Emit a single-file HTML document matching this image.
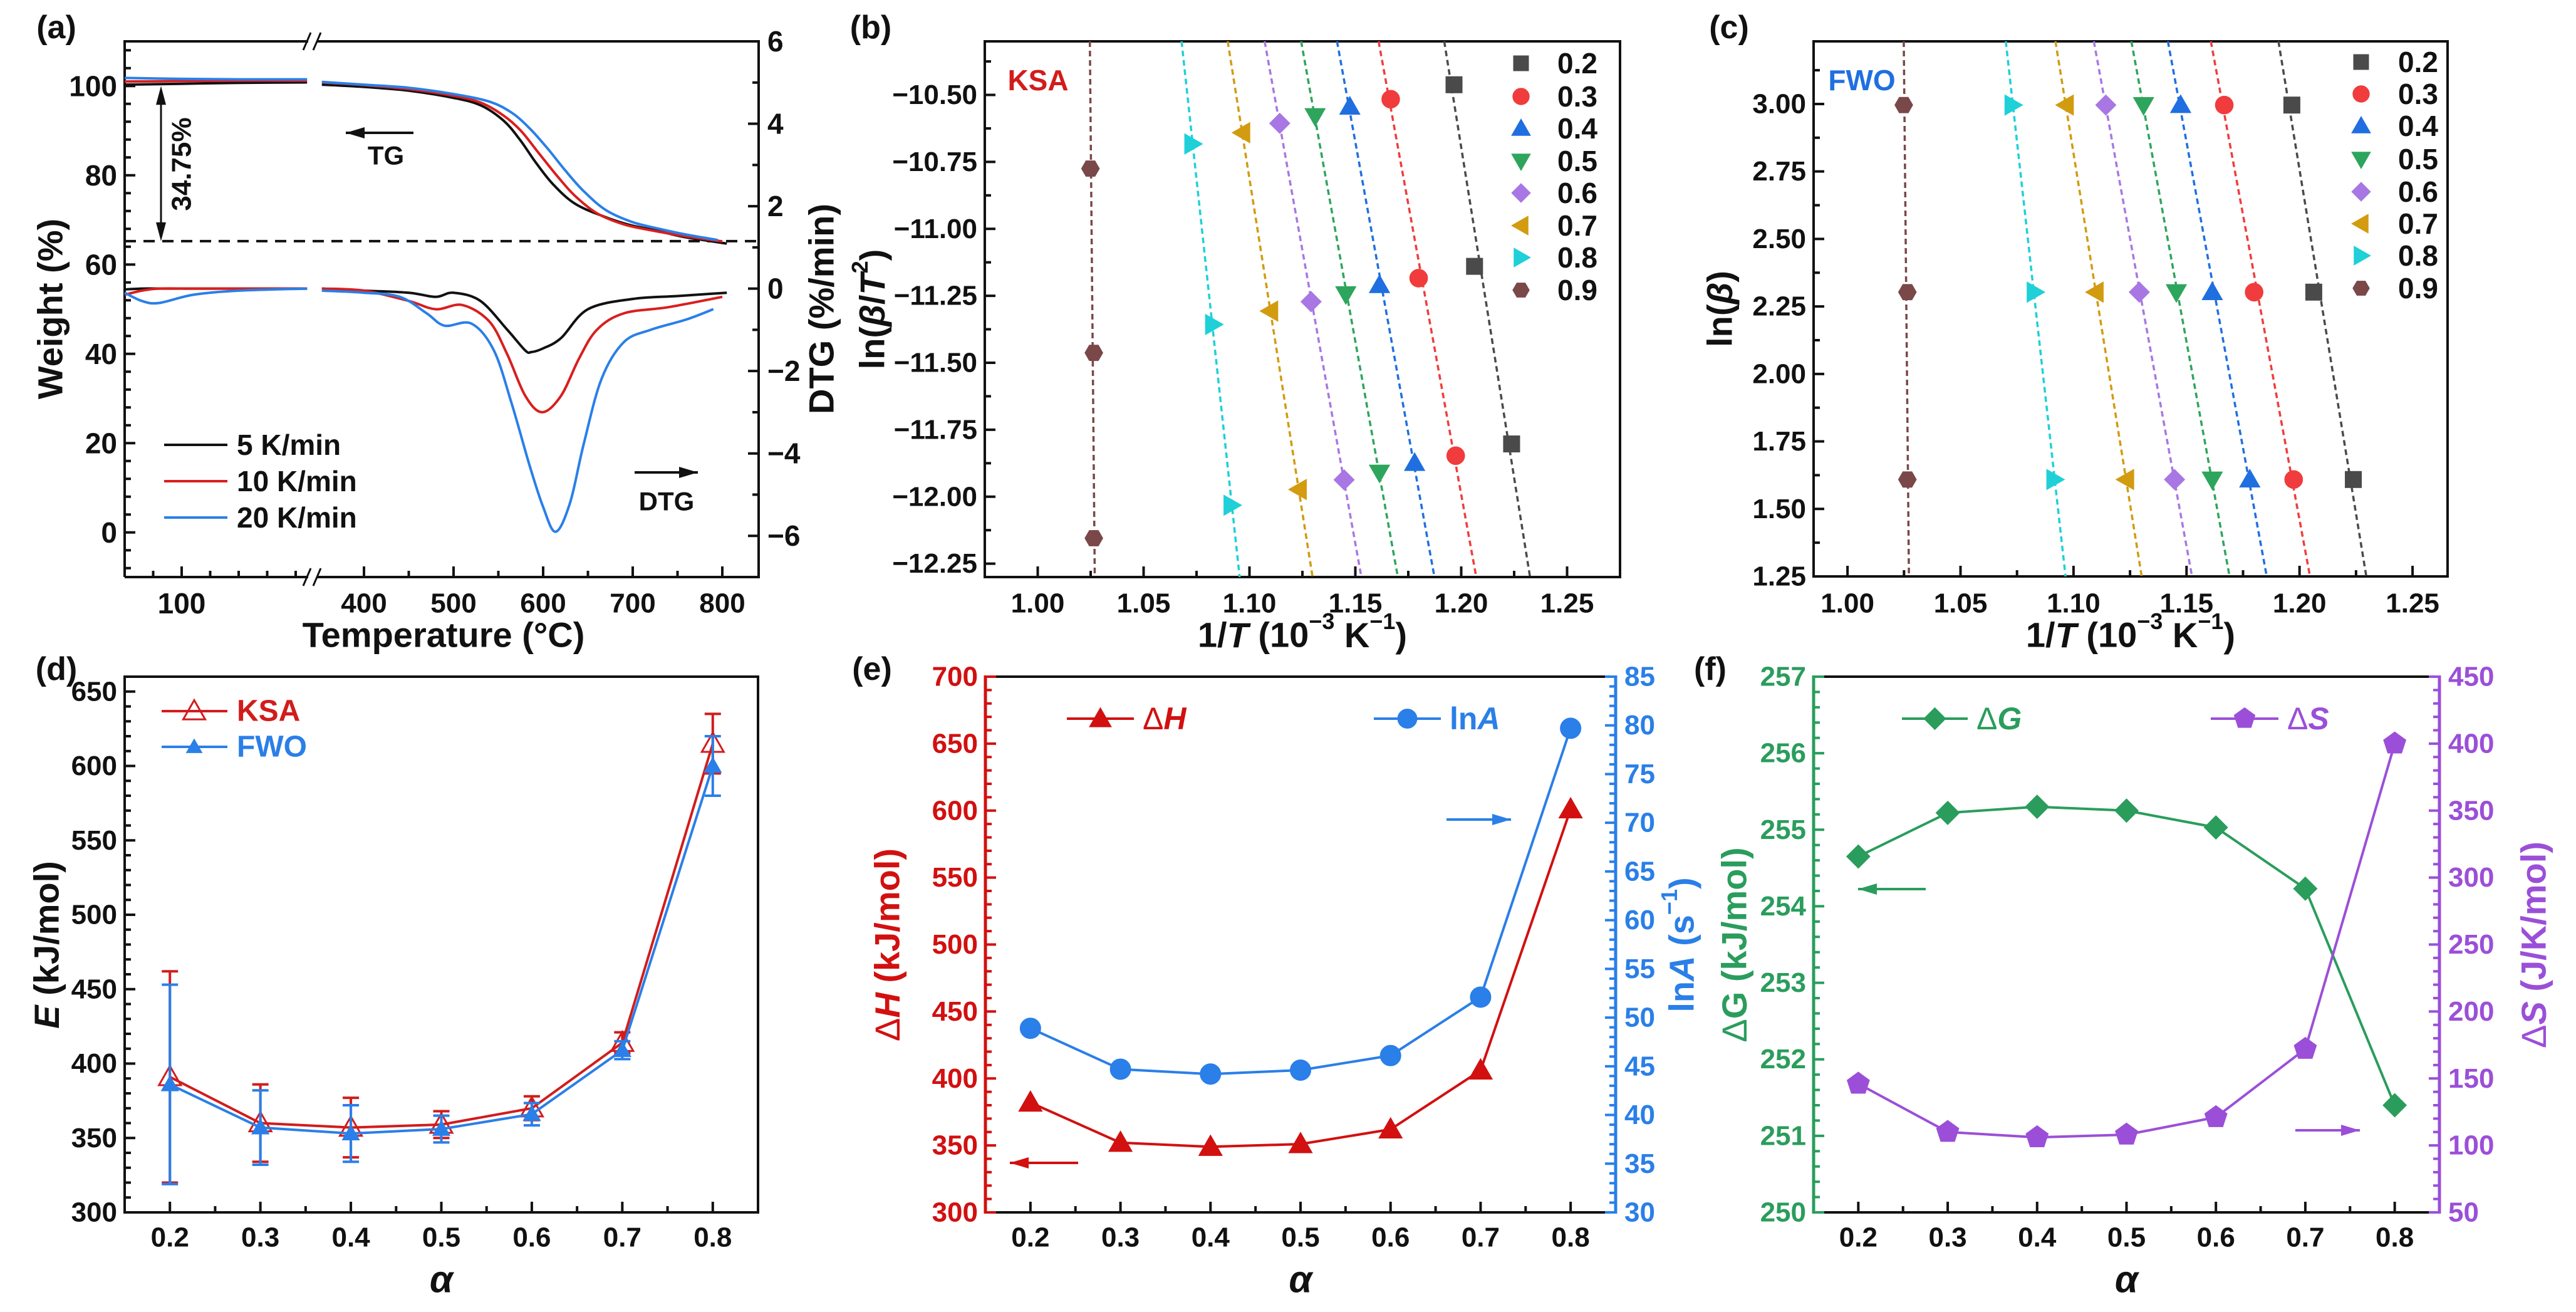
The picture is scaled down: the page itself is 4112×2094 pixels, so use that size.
<!DOCTYPE html>
<html><head><meta charset="utf-8"><style>
html,body{margin:0;padding:0;background:#fff;}
svg{display:block;font-family:"Liberation Sans",Arial,sans-serif;font-weight:bold;}
</style></head><body>
<svg id="fig" width="4112" height="2094" viewBox="0 0 4112 2094" xmlns="http://www.w3.org/2000/svg">
<defs>
<clipPath id="clipB"><rect x="1572" y="66" width="1014" height="855"/></clipPath>
<clipPath id="clipC"><rect x="2895" y="66" width="1012" height="854"/></clipPath>
</defs>
</svg>
<script>
// ---------- DATA ----------
// Panel (a) TG (weight %) and DTG (%/min)
const tgLeftT = [50, 100, 150, 210];
const tgBlackLeft = [100.3, 100.5, 100.7, 100.8];
const tgRedLeft = [101.0, 101.1, 101.2, 101.2];
const tgBlueLeft = [101.8, 101.6, 101.5, 101.5];
const tgBlackT = [353, 400, 452, 501, 531, 556, 574, 592, 611, 635, 666, 696, 727, 757, 805];
const tgBlack = [100.3, 99.8, 98.9, 97.3, 95.6, 92.2, 88.0, 82.8, 78.0, 73.7, 70.9, 68.9, 67.6, 66.2, 64.7];
const tgRedT = [353, 400, 450, 500, 530, 555, 575, 595, 615, 635, 660, 690, 720, 760, 800];
const tgRed = [100.8, 100.2, 99.3, 97.8, 96.3, 93.5, 90.0, 85.0, 80.0, 75.5, 71.5, 69.0, 67.7, 66.3, 65.2];
const tgBlueT = [353, 400, 450, 500, 540, 565, 585, 605, 625, 645, 670, 700, 730, 760, 795];
const tgBlue = [100.9, 100.3, 99.6, 98.2, 96.5, 94.0, 90.5, 86.0, 81.0, 76.5, 72.2, 69.5, 68.0, 66.7, 65.5];
const dtgLeftT = [50, 65, 80, 110, 150, 210];
const dtgBlackLeft = [-0.02, 0, 0, 0, 0, 0];
const dtgRedLeft = [-0.15, -0.05, 0.0, 0.0, 0.0, 0.0];
const dtgBlueLeft = [-0.1, -0.3, -0.35, -0.15, -0.05, 0.0];
const dtgBlackT = [353, 400, 450, 480, 500, 530, 560, 580, 587, 600, 620, 650, 700, 750, 805];
const dtgBlack = [0.0, -0.05, -0.1, -0.2, -0.1, -0.3, -1.0, -1.5, -1.54, -1.45, -1.2, -0.5, -0.25, -0.18, -0.1];
const dtgRedT = [353, 400, 450, 480, 510, 540, 560, 580, 599, 620, 640, 660, 690, 740, 800];
const dtgRed = [0.0, -0.05, -0.3, -0.5, -0.4, -0.8, -1.6, -2.6, -3.0, -2.6, -1.7, -1.0, -0.6, -0.45, -0.2];
const dtgBlueT = [353, 400, 440, 470, 490, 520, 545, 565, 585, 600, 614, 630, 645, 665, 690, 720, 760, 790];
const dtgBlue = [-0.05, -0.1, -0.2, -0.6, -0.9, -0.85, -1.5, -2.8, -4.3, -5.3, -5.9, -5.2, -3.8, -2.2, -1.3, -1.0, -0.75, -0.5];

// Panels (b),(c) isoconversional data
const alphas = ['0.2', '0.3', '0.4', '0.5', '0.6', '0.7', '0.8', '0.9'];
const invT20 = [1.1966, 1.1667, 1.1474, 1.1310, 1.1143, 1.0966, 1.0730, 1.0249];
const invT10 = [1.2063, 1.1799, 1.1614, 1.1455, 1.1291, 1.1098, 1.0828, 1.0265];
const invT5 = [1.2238, 1.1974, 1.1780, 1.1614, 1.1447, 1.1233, 1.0915, 1.0265];
const ksa20 = [-10.462, -10.516, -10.544, -10.579, -10.606, -10.641, -10.683, -10.775];
const ksa10 = [-11.140, -11.184, -11.210, -11.244, -11.272, -11.307, -11.357, -11.463];
const ksa5 = [-11.803, -11.847, -11.874, -11.910, -11.937, -11.973, -12.032, -12.155];
const lnBeta = [2.996, 2.303, 1.609];

// Panel (d)
const alphaX = [0.2, 0.3, 0.4, 0.5, 0.6, 0.7, 0.8];
const eKSA = [391, 360, 357, 359, 370, 414, 615];
const eKSAerr = [71, 26, 20, 9, 8, 7, 20];
const eFWO = [386, 357, 353, 356, 366, 409, 600];
const eFWOerr = [67, 25, 19, 9, 7.5, 6, 20];
// Panel (e)
const dH = [382, 352, 349, 351, 362, 406, 601];
const lnA = [48.9, 44.7, 44.2, 44.6, 46.1, 52.1, 79.7];
// Panel (f)
const dG = [254.65, 255.22, 255.3, 255.25, 255.03, 254.23, 251.4];
const dS = [146, 110, 106, 108, 121, 172, 400];

// ---------- HELPERS ----------
const NS = 'http://www.w3.org/2000/svg';
const svg = document.getElementById('fig');
function mk(tag, attrs, parent) {
  const e = document.createElementNS(NS, tag);
  for (const k in attrs) e.setAttribute(k, attrs[k]);
  (parent || svg).appendChild(e);
  return e;
}
function lin(d0, d1, r0, r1) { return v => r0 + (v - d0) * (r1 - r0) / (d1 - d0); }
function txt(x, y, s, size, color, anchor, parent, rot) {
  const t = mk('text', {x: x, y: y, 'font-size': size, fill: color || '#111', 'text-anchor': anchor || 'middle', 'dominant-baseline': 'central'}, parent);
  if (rot) t.setAttribute('transform', 'rotate(' + rot + ' ' + x + ' ' + y + ')');
  t.innerHTML = s;
  return t;
}
function marker(type, cx, cy, r, color, parent, hollow) {
  let p;
  const f = hollow ? 'none' : color, st = color;
  if (type === 'square') p = mk('rect', {x: cx - r, y: cy - r, width: 2 * r, height: 2 * r}, parent);
  else if (type === 'circle') p = mk('circle', {cx: cx, cy: cy, r: r * 1.1}, parent);
  else {
    let pts;
    const R = r * 1.25;
    if (type === 'up') pts = [[0, -R], [R, R * 0.75], [-R, R * 0.75]];
    else if (type === 'down') pts = [[0, R], [R, -R * 0.75], [-R, -R * 0.75]];
    else if (type === 'left') pts = [[-R, 0], [R * 0.75, -R], [R * 0.75, R]];
    else if (type === 'right') pts = [[R, 0], [-R * 0.75, -R], [-R * 0.75, R]];
    else if (type === 'diamond') pts = [[0, -R], [R, 0], [0, R], [-R, 0]];
    else if (type === 'hex') { pts = []; for (let i = 0; i < 6; i++) { const a = Math.PI / 3 * i; pts.push([r * 1.1 * Math.cos(a), r * 1.1 * Math.sin(a)]); } }
    else if (type === 'pent') { pts = []; for (let i = 0; i < 5; i++) { const a = -Math.PI / 2 + 2 * Math.PI / 5 * i; pts.push([R * Math.cos(a), R * Math.sin(a)]); } }
    p = mk('polygon', {points: pts.map(q => (cx + q[0]) + ',' + (cy + q[1])).join(' ')}, parent);
  }
  p.setAttribute('fill', f);
  p.setAttribute('stroke', st);
  p.setAttribute('stroke-width', hollow ? 3 : 1);
  return p;
}
function polyline(xs, ys, color, w, parent, dash) {
  const pts = xs.map((x, i) => x.toFixed(1) + ',' + ys[i].toFixed(1)).join(' ');
  const p = mk('polyline', {points: pts, fill: 'none', stroke: color, 'stroke-width': w, 'stroke-linejoin': 'round'}, parent);
  if (dash) p.setAttribute('stroke-dasharray', dash);
  return p;
}
function smooth(xs, ys, color, w, parent) {
  let d = 'M' + xs[0].toFixed(1) + ',' + ys[0].toFixed(1);
  for (let i = 0; i < xs.length - 1; i++) {
    const x0 = xs[Math.max(0, i - 1)], y0 = ys[Math.max(0, i - 1)];
    const x1 = xs[i], y1 = ys[i], x2 = xs[i + 1], y2 = ys[i + 1];
    const x3 = xs[Math.min(xs.length - 1, i + 2)], y3 = ys[Math.min(xs.length - 1, i + 2)];
    const c1x = x1 + (x2 - x0) / 6, c1y = y1 + (y2 - y0) / 6;
    const c2x = x2 - (x3 - x1) / 6, c2y = y2 - (y3 - y1) / 6;
    d += ' C' + c1x.toFixed(1) + ',' + c1y.toFixed(1) + ' ' + c2x.toFixed(1) + ',' + c2y.toFixed(1) + ' ' + x2.toFixed(1) + ',' + y2.toFixed(1);
  }
  return mk('path', {d: d, fill: 'none', stroke: color, 'stroke-width': w, 'stroke-linejoin': 'round'}, parent);
}
function arrow(x1, y, x2, color, parent) {
  const g = mk('g', {}, parent);
  mk('line', {x1: x1, y1: y, x2: x2, y2: y, stroke: color, 'stroke-width': 4}, g);
  const d = x2 > x1 ? 1 : -1;
  mk('polygon', {points: x2 + ',' + y + ' ' + (x2 - d * 30) + ',' + (y - 9) + ' ' + (x2 - d * 30) + ',' + (y + 9), fill: color}, g);
  return g;
}
function yTicks(g, x, side, sc, from, to, major, minor, color, fmt, labelSize) {
  const dir = side === 'l' ? 1 : -1;
  const n = Math.floor((to - from) / minor + 1e-6);
  for (let i = 0; i <= n; i++) {
    const v = from + i * minor;
    const isMaj = Math.abs(v / major - Math.round(v / major)) < 1e-6;
    const y = sc(v);
    mk('line', {x1: x, y1: y, x2: x + dir * (isMaj ? 17 : 10), y2: y, stroke: color, 'stroke-width': 4}, g);
    if (isMaj) {
      const t = txt(side === 'l' ? x - 12 : x + 14, y, fmt(v), labelSize || 44, color, side === 'l' ? 'end' : 'start', g);
      
      
    }
  }
}
function xTicks(g, y, sc, from, to, major, minor, fmt, labelY, x0, x1) {
  const n = Math.round((to - from) / minor);
  for (let i = 0; i <= n; i++) {
    const v = from + i * minor;
    const x = sc(v);
    if (x < x0 + 2 || x > x1 - 2) continue;
    const isMaj = Math.abs(v / major - Math.round(v / major)) < 1e-6;
    mk('line', {x1: x, y1: y, x2: x, y2: y - (isMaj ? 17 : 10), stroke: '#111', 'stroke-width': 4}, g);
    if (isMaj) {
      const t = txt(x, labelY, fmt(v), 44, '#111', 'middle', g);
      
      
    }
  }
}
const f0 = v => (v < 0 ? '\u2212' : '') + Math.abs(Math.round(v));
const f1 = v => v.toFixed(1);
const f2 = v => (v < 0 ? '\u2212' : '') + Math.abs(v).toFixed(2);

// ---------- PANEL A ----------
(function () {
  const g = mk('g', {});
  
  
  const L = 199, R = 1211, T = 66, B = 921;
  const xa = t => t <= 300 ? 290 + (t - 100) * 45.5 / 25 : 581 + (t - 400) * 1.43;
  const yl = lin(-10, 110, B, T);
  const yr = lin(-7, 6, B, T);
  const lbl = txt(90, 44, '(a)', 52, '#111', 'middle', g);
  
  
  const fr = mk('path', {d: `M${L},${B} L${L},${T} L492,${T} M506,${T} L${R},${T} L${R},${B} L506,${B} M492,${B} L${L},${B}`, fill: 'none', stroke: '#111', 'stroke-width': 4}, g);
  
  
  [T, B].forEach(y => {
    const br = mk('path', {d: `M484,${y + 14} L496,${y - 14} M500,${y + 14} L512,${y - 14}`, stroke: '#111', 'stroke-width': 3, fill: 'none'}, g);
    
    
  });
  yTicks(g, L, 'l', yl, -8, 108, 20, 4, '#111', f0, 46);
  yTicks(g, R, 'r', yr, -7, 6, 2, 1, '#111', f0, 46);
  for (let k = -2; k <= 4; k++) {
    const x = 290 + k * 45.5;
    if (x < L + 5 || x > 485) continue;
    mk('line', {x1: x, y1: B, x2: x, y2: B - (k === 0 ? 17 : 10), stroke: '#111', 'stroke-width': 4}, g);
  }
  const t100 = txt(290, 963, '100', 46, '#111', 'middle', g);
  
  
  xTicks(g, B, xa, 350, 850, 100, 50, f0, 963, 515, R);
  const xt = txt(708, 1013, 'Temperature (°C)', 56, '#111', 'middle', g);
  
  
  const yt = txt(80, 493, 'Weight (%)', 56, '#111', 'middle', g, -90);
  
  
  const yt2 = txt(1311, 493, 'DTG (%/min)', 56, '#111', 'middle', g, -90);
  
  
  const dl = mk('line', {x1: L, y1: yl(65.25), x2: R, y2: yl(65.25), stroke: '#111', 'stroke-width': 4, 'stroke-dasharray': '18,12'}, g);
  
  
  const da = mk('g', {}, g);
  
  
  mk('line', {x1: 257, y1: yl(100) + 28, x2: 257, y2: yl(65.25) - 28, stroke: '#111', 'stroke-width': 3}, da);
  mk('polygon', {points: `257,${yl(100)} 249,${yl(100) + 30} 265,${yl(100) + 30}`, fill: '#111'}, da);
  mk('polygon', {points: `257,${yl(65.25)} 249,${yl(65.25) - 30} 265,${yl(65.25) - 30}`, fill: '#111'}, da);
  const ml = txt(290, 262, '34.75%', 44, '#111', 'middle', g, -90);
  
  
  const a1 = arrow(660, 212, 552, '#111', g);
  
  
  const tg = txt(616, 248, 'TG', 42, '#111', 'middle', g);
  
  
  const a2 = arrow(1013, 754, 1114, '#111', g);
  
  
  const dt = txt(1064, 800, 'DTG', 42, '#111', 'middle', g);
  
  
  const cols = {k: '#111111', r: '#d91e1e', b: '#2a7fe8'};
  const series = [
    ['tg-5k-left', tgLeftT, tgBlackLeft, yl, cols.k], ['tg-10k-left', tgLeftT, tgRedLeft, yl, cols.r], ['tg-20k-left', tgLeftT, tgBlueLeft, yl, cols.b],
    ['tg-5k', tgBlackT, tgBlack, yl, cols.k], ['tg-10k', tgRedT, tgRed, yl, cols.r], ['tg-20k', tgBlueT, tgBlue, yl, cols.b],
    ['dtg-5k-left', dtgLeftT, dtgBlackLeft, yr, cols.k], ['dtg-10k-left', dtgLeftT, dtgRedLeft, yr, cols.r], ['dtg-20k-left', dtgLeftT, dtgBlueLeft, yr, cols.b],
    ['dtg-5k', dtgBlackT, dtgBlack, yr, cols.k], ['dtg-10k', dtgRedT, dtgRed, yr, cols.r], ['dtg-20k', dtgBlueT, dtgBlue, yr, cols.b]
  ];
  series.forEach(s => {
    const p = smooth(s[1].map(xa), s[2].map(s[3]), s[4], 4, g);
    
    
  });
  const legNames = ['5 K/min', '10 K/min', '20 K/min'], legCols = [cols.k, cols.r, cols.b];
  legNames.forEach((n, i) => {
    const lg = mk('g', {}, g);
    
    
    const y = 710 + i * 58;
    mk('line', {x1: 262, y1: y, x2: 363, y2: y, stroke: legCols[i], 'stroke-width': 4}, lg);
    txt(378, y, n, 46, '#111', 'start', lg);
  });
})();

// ---------- PANELS B, C ----------
const mTypes = ['square', 'circle', 'up', 'down', 'diamond', 'left', 'right', 'hex'];
const mCols = ['#4a4a4a', '#f03c3c', '#1f6fe0', '#2ea55c', '#a877e3', '#d29b10', '#1fd0d8', '#7a4848'];
function isoPanel(id, L, R, T, B, xd, yd, yMajor, yMinor, yVals, label, labelColor, tagX, legMX, legTX, legY, clip, ytitle, ytitleX, lblX) {
  const g = mk('g', {});
  
  
  const xs = lin(xd[0], xd[1], L, R), ys = lin(yd[0], yd[1], B, T);
  const pl = txt(lblX, 44, '(' + id + ')', 52, '#111', 'middle', g);
  
  
  const fr = mk('rect', {x: L, y: T, width: R - L, height: B - T, fill: 'none', stroke: '#111', 'stroke-width': 4}, g);
  
  
  xTicks(g, B, xs, 0.975, 1.275, 0.05, 0.025, v => v.toFixed(2), 963, L, R);
  const yStart = Math.ceil(yd[0] / yMinor - 1e-6) * yMinor;
  yTicks(g, L, 'l', ys, yStart, yd[1], yMajor, yMinor, '#111', f2, 44);
  const xt = mk('text', {x: (L + R) / 2, y: 1013, 'font-size': 56, 'text-anchor': 'middle', 'dominant-baseline': 'central', fill: '#111'}, g);
  xt.innerHTML = '1/<tspan font-style="italic">T</tspan> (10<tspan dy="-22" font-size="36">\u22123</tspan><tspan dy="22"> K</tspan><tspan dy="-22" font-size="36">\u22121</tspan><tspan dy="22">)</tspan>';
  
  
  const yt = mk('text', {x: ytitleX, y: (T + B) / 2, 'font-size': 56, 'text-anchor': 'middle', 'dominant-baseline': 'central', fill: '#111', transform: `rotate(-90 ${ytitleX} ${(T + B) / 2})`}, g);
  yt.innerHTML = ytitle;
  
  
  const tg = txt(tagX, 128, label, 46, labelColor, 'middle', g);
  
  
  const cg = mk('g', {'clip-path': 'url(#' + clip + ')'}, g);
  alphas.forEach((a, i) => {
    const px = [invT20[i], invT10[i], invT5[i]];
    const py = [yVals[0][i], yVals[1][i], yVals[2][i]];
    const mx = px.reduce((s, v) => s + v, 0) / 3, my = py.reduce((s, v) => s + v, 0) / 3;
    let sxy = 0, syy = 0;
    for (let k = 0; k < 3; k++) { sxy += (px[k] - mx) * (py[k] - my); syy += (py[k] - my) ** 2; }
    const b = sxy / syy;
    const xAt = y => mx + b * (y - my);
    const fl = mk('line', {x1: xs(xAt(yd[1])), y1: ys(yd[1]), x2: xs(xAt(yd[0])), y2: ys(yd[0]), stroke: mCols[i], 'stroke-width': 3.5, 'stroke-dasharray': '9,6'}, cg);
    
    
    for (let k = 0; k < 3; k++) {
      const m = marker(mTypes[i], xs(px[k]), ys(py[k]), 13, mCols[i], g);
      
      
    }
    const lg = mk('g', {}, g);
    
    
    marker(mTypes[i], legMX, legY[i], 12, mCols[i], lg);
    txt(legTX, legY[i], a, 46, '#111', 'start', lg);
  });
}
isoPanel('b', 1572, 2586, 66, 921, [0.975, 1.275], [-12.30, -10.30], 0.25, 0.125, [ksa20, ksa10, ksa5], 'KSA', '#d21c1c', 1657, 2428, 2486, [101, 154, 205, 257, 308, 360, 411, 463], 'clipB', 'ln(<tspan font-style="italic">\u03b2</tspan>/<tspan font-style="italic">T</tspan><tspan dy="-20" font-size="36">2</tspan><tspan dy="20">)</tspan>', 1392, 1390);
isoPanel('c', 2895, 3907, 66, 920, [0.985, 1.2655], [1.25, 3.232], 0.25, 0.125, [alphas.map(() => lnBeta[0]), alphas.map(() => lnBeta[1]), alphas.map(() => lnBeta[2])], 'FWO', '#1f6fe0', 2972, 3769, 3828, [99, 150, 201, 254, 306, 357, 408, 460], 'clipC', 'ln(<tspan font-style="italic">\u03b2</tspan>)', 2745, 2760);

// ---------- PANEL D ----------
(function () {
  const g = mk('g', {});
  
  
  const L = 199, R = 1210, T = 1080, B = 1935;
  const xs = lin(0.15, 0.85, L, R), ys = lin(300, 660, B, T);
  const pl = txt(90, 1068, '(d)', 52, '#111', 'middle', g);
  
  
  const fr = mk('rect', {x: L, y: T, width: R - L, height: B - T, fill: 'none', stroke: '#111', 'stroke-width': 4}, g);
  
  
  xTicks(g, B, xs, 0.15, 0.85, 0.1, 0.05, f1, 1975, L, R);
  yTicks(g, L, 'l', ys, 300, 660, 50, 10, '#111', f0, 44);
  const xt = txt((L + R) / 2, 2042, 'α', 60, '#111', 'middle', g);
  xt.setAttribute('font-style', 'italic');
  
  
  const yt = mk('text', {x: 74, y: 1508, 'font-size': 56, 'text-anchor': 'middle', 'dominant-baseline': 'central', fill: '#111', transform: 'rotate(-90 74 1508)'}, g);
  yt.innerHTML = '<tspan font-style="italic">E</tspan> (kJ/mol)';
  
  
  const sets = [['ksa', eKSA, eKSAerr, '#d21c1c', true], ['fwo', eFWO, eFWOerr, '#2a7fe8', false]];
  sets.forEach(s => {
    const sg = mk('g', {}, g);
    
    
    s[1].forEach((v, i) => {
      const x = xs(alphaX[i]);
      const eb = mk('path', {d: `M${x},${ys(v + s[2][i])} L${x},${ys(v - s[2][i])} M${x - 13},${ys(v + s[2][i])} L${x + 13},${ys(v + s[2][i])} M${x - 13},${ys(v - s[2][i])} L${x + 13},${ys(v - s[2][i])}`, stroke: s[3], 'stroke-width': 4, fill: 'none'}, sg);
      
      
    });
    const ln = polyline(alphaX.map(xs), s[1].map(ys), s[3], 4, sg);
    
    
    s[1].forEach((v, i) => {
      const m = marker('up', xs(alphaX[i]), ys(v), s[4] ? 14 : 11, s[3], sg, s[4]);
      
      
    });
  });
  ['KSA', 'FWO'].forEach((n, i) => {
    const lg = mk('g', {}, g);
    
    
    const y = 1135 + i * 57, c = i ? '#2a7fe8' : '#d21c1c';
    mk('line', {x1: 258, y1: y, x2: 363, y2: y, stroke: c, 'stroke-width': 4}, lg);
    marker('up', 310, y, i ? 10 : 14, c, lg, !i);
    txt(378, y, n, 48, c, 'start', lg);
  });
})();

// ---------- PANELS E, F ----------
function dualPanel(id, L, R, ld, rd, lMaj, lMin, rMaj, rMin, lCol, rCol, lVals, rVals, lMark, rMark, lFmt, rFmt, lTitle, rTitle, lTitleX, rTitleX, legs, arrows, lblX) {
  const T = 1080, B = 1935;
  const g = mk('g', {});
  
  
  const xs = lin(0.15, 0.85, L, R), yl = lin(ld[0], ld[1], B, T), yr = lin(rd[0], rd[1], B, T);
  const pl = txt(lblX, 1068, '(' + id + ')', 52, '#111', 'middle', g);
  
  
  const tb = mk('path', {d: `M${L},${T} L${R},${T} M${L},${B} L${R},${B}`, stroke: '#111', 'stroke-width': 4, fill: 'none'}, g);
  
  
  const la = mk('line', {x1: L, y1: T - 2, x2: L, y2: B + 2, stroke: lCol, 'stroke-width': 5}, g);
  
  
  const ra = mk('line', {x1: R, y1: T - 2, x2: R, y2: B + 2, stroke: rCol, 'stroke-width': 5}, g);
  
  
  xTicks(g, B, xs, 0.15, 0.85, 0.1, 0.05, f1, 1975, L, R);
  yTicks(g, L, 'l', yl, ld[0], ld[1], lMaj, lMin, lCol, lFmt, 44);
  yTicks(g, R, 'r', yr, rd[0], rd[1], rMaj, rMin, rCol, rFmt, 44);
  const xt = txt((L + R) / 2, 2042, 'α', 60, '#111', 'middle', g);
  xt.setAttribute('font-style', 'italic');
  
  
  const y1 = mk('text', {x: lTitleX, y: 1508, 'font-size': 56, 'text-anchor': 'middle', 'dominant-baseline': 'central', fill: lCol, transform: `rotate(-90 ${lTitleX} 1508)`}, g);
  y1.innerHTML = lTitle;
  
  
  const y2 = mk('text', {x: rTitleX, y: 1508, 'font-size': 56, 'text-anchor': 'middle', 'dominant-baseline': 'central', fill: rCol, transform: `rotate(-90 ${rTitleX} 1508)`}, g);
  y2.innerHTML = rTitle;
  
  
  const s1 = mk('g', {}, g);
  
  
  polyline(alphaX.map(xs), lVals.map(yl), lCol, 4, s1);
  lVals.forEach((v, i) => {
    const m = marker(lMark, xs(alphaX[i]), yl(v), 15, lCol, s1);
    
    
  });
  const s2 = mk('g', {}, g);
  
  
  polyline(alphaX.map(xs), rVals.map(yr), rCol, 4, s2);
  rVals.forEach((v, i) => {
    const m = marker(rMark, xs(alphaX[i]), yr(v), 15, rCol, s2);
    
    
  });
  legs.forEach(lgd => {
    const lg = mk('g', {}, g);
    
    
    mk('line', {x1: lgd[0], y1: 1147, x2: lgd[1], y2: 1147, stroke: lgd[3], 'stroke-width': 4}, lg);
    marker(lgd[4], (lgd[0] + lgd[1]) / 2, 1147, 14, lgd[3], lg);
    const t = mk('text', {x: lgd[1] + 14, y: 1147, 'font-size': 50, fill: lgd[3], 'dominant-baseline': 'central'}, lg);
    t.innerHTML = lgd[2];
  });
  arrows.forEach(a => {
    const ar = arrow(a[0], a[2], a[1], a[3], g);
    
    
  });
}
dualPanel('e', 1573, 2579, [300, 700], [30, 85], 50, 10, 5, 1, '#d21010', '#2a7fe8', dH, lnA, 'up', 'circle', f0, f0,
  '<tspan font-weight="normal">\u0394</tspan><tspan font-style="italic">H</tspan> (kJ/mol)',
  'ln<tspan font-style="italic">A</tspan> (s<tspan dy="-20" font-size="36">\u22121</tspan><tspan dy="20">)</tspan>', 1416, 2684,
  [[1703, 1810, '<tspan font-weight="normal">\u0394</tspan><tspan font-style="italic">H</tspan>', '#d21010', 'up'], [2193, 2300, 'ln<tspan font-style="italic">A</tspan>', '#2a7fe8', 'circle']],
  [[1721, 1612, 1856, '#d21010'], [2309, 2412, 1308, '#2a7fe8']], 1392);
dualPanel('f', 2895, 3894, [250, 257], [50, 450], 1, 0.2, 50, 10, '#2a9d5c', '#9b4fd8', dG, dS, 'diamond', 'pent', f0, f0,
  '<tspan font-weight="normal">\u0394</tspan><tspan>G</tspan> (kJ/mol)',
  '<tspan font-weight="normal">\u0394</tspan><tspan font-style="italic">S</tspan> (J/K/mol)', 2768, 4044,
  [[3036, 3141, '<tspan font-weight="normal">\u0394</tspan><tspan font-style="italic">G</tspan>', '#2a9d5c', 'diamond'], [3529, 3637, '<tspan font-weight="normal">\u0394</tspan><tspan font-style="italic">S</tspan>', '#9b4fd8', 'pent']],
  [[3074, 2966, 1419, '#2a9d5c'], [3664, 3767, 1804, '#9b4fd8']], 2730);
</script>
</body></html>
